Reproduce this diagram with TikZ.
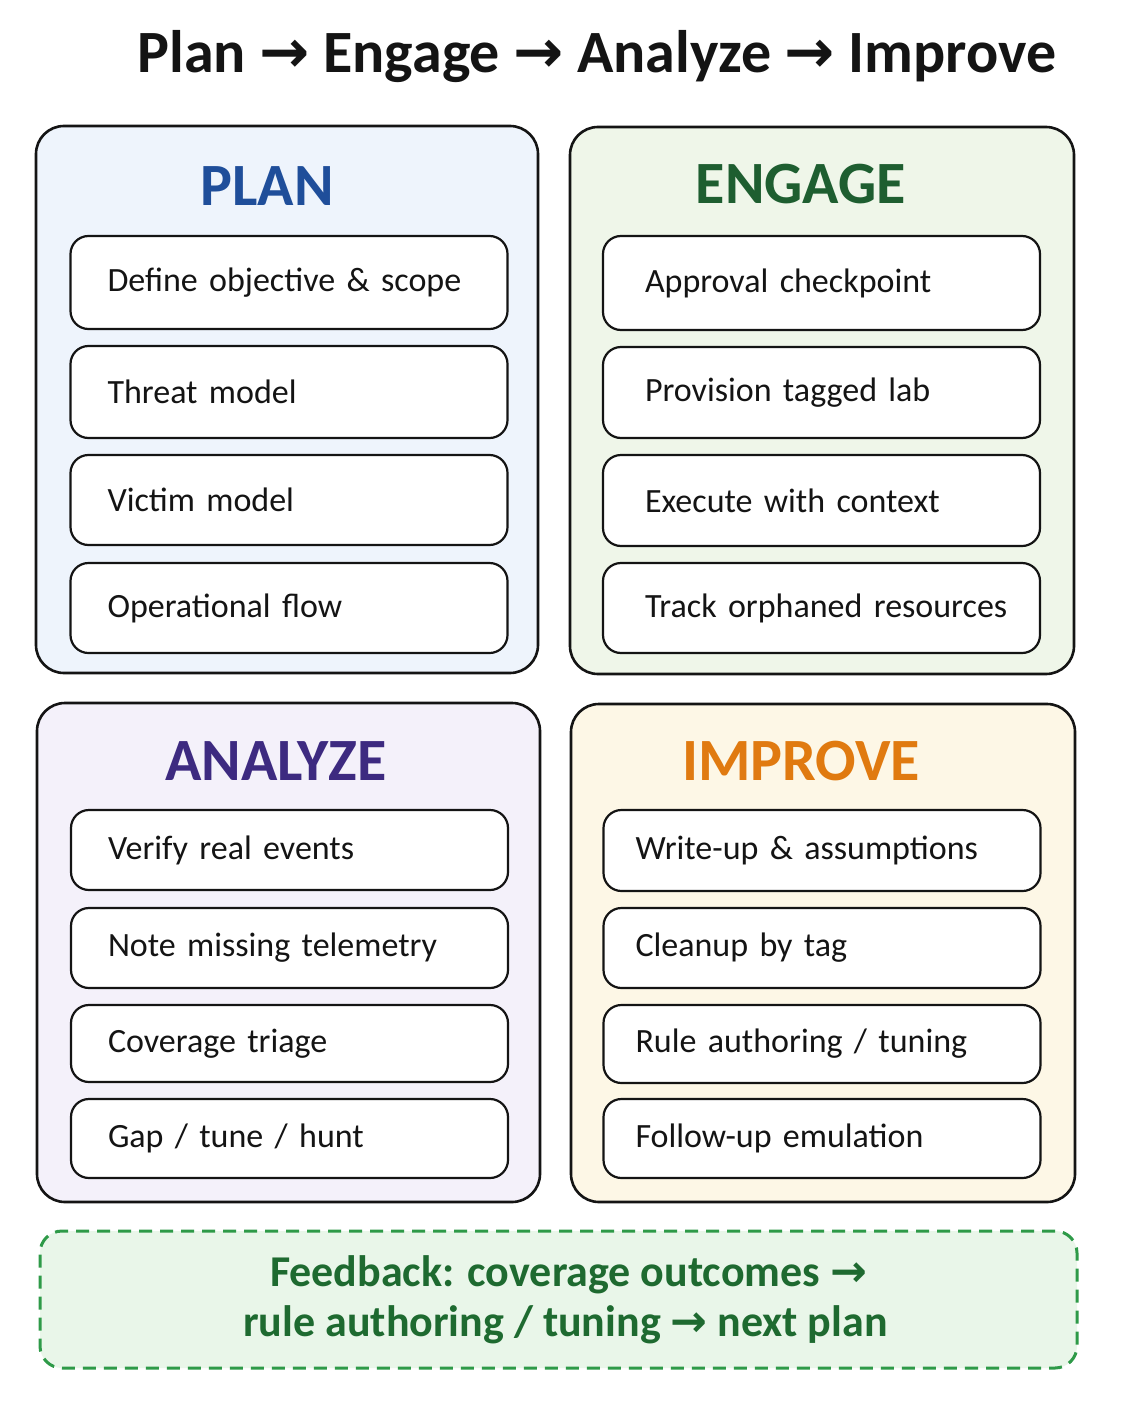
\documentclass[tikz,border=0pt]{standalone}
\usepackage{fontspec}
\setmainfont{Carlito}
\newfontfamily\arrowfont{DejaVu Sans}
\newcommand{\rarr}{{\arrowfont →}}
\definecolor{planfill}{HTML}{EEF4FC}
\definecolor{planc}{HTML}{1F4E9A}
\definecolor{engfill}{HTML}{EFF6E9}
\definecolor{engc}{HTML}{1E5E30}
\definecolor{anafill}{HTML}{F4F1FA}
\definecolor{anac}{HTML}{3D2A80}
\definecolor{impfill}{HTML}{FDF7E6}
\definecolor{impc}{HTML}{E07A10}
\definecolor{fbfill}{HTML}{E9F6E9}
\definecolor{fbline}{HTML}{2E9A48}
\definecolor{fbtext}{HTML}{1E6A30}
\definecolor{ink}{HTML}{141414}
\tikzset{
  panel/.style={draw=ink, line width=2.6pt, rounded corners=28pt, inner sep=0pt},
  header/.style={font=\fontsize{60}{66}\selectfont\bfseries, inner sep=0pt},
  item/.style={draw=ink, line width=2.2pt, rounded corners=18pt, fill=white,
    minimum width=437pt, align=left, inner ysep=0pt,
    font=\fontsize{34}{40}\selectfont, text=ink},
}
\begin{document}
\begin{tikzpicture}[x=1pt,y=-1pt]
\useasboundingbox[fill=white] (0,0) rectangle (1122,1402);

% title
\node[font=\fontsize{60}{66}\selectfont\bfseries, text=ink, inner sep=0pt] (title) at (597,57)
  {Plan \rarr{} Engage \rarr{} Analyze \rarr{} Improve};

% panels
\node[panel, fill=planfill, minimum width=502pt, minimum height=547pt] (plan) at (287,399.5) {};
\node[panel, fill=engfill, minimum width=504pt, minimum height=547pt] (engage) at (822,400.5) {};
\node[panel, fill=anafill, minimum width=503pt, minimum height=499pt] (analyze) at (288.5,952.5) {};
\node[panel, fill=impfill, minimum width=504pt, minimum height=498pt] (improve) at (823,953) {};

% headers
\node[header, text=planc] (planh) at (267,186) {PLAN};
\node[header, text=engc] (engh) at (801,184) {ENGAGE};
\node[header, text=anac] (anah) at (276,761) {ANALYZE};
\node[header, text=impc] (imph) at (801,761) {IMPROVE};

% plan items
\begin{scope}[every node/.append style={inner xsep=37pt, text width=363pt}]
\node[item, minimum height=93pt] (p1) at (289,282.5) {\mbox{Define objective \& scope}};
\node[item, minimum height=92pt] (p2) at (289,392) {\mbox{Threat model}};
\node[item, minimum height=90pt] (p3) at (289,500) {\mbox{Victim model}};
\node[item, minimum height=90pt] (p4) at (289,608) {\mbox{Operational flow}};
\end{scope}

% engage items
\begin{scope}[every node/.append style={inner xsep=42pt, text width=353pt}]
\node[item, minimum height=94pt] (e1) at (821.5,283) {\mbox{Approval checkpoint}};
\node[item, minimum height=91pt] (e2) at (821.5,392.5) {\mbox{Provision tagged lab}};
\node[item, minimum height=91pt] (e3) at (821.5,500.5) {\mbox{Execute with context}};
\node[item, minimum height=90pt] (e4) at (821.5,608) {\mbox{Track orphaned resources}};
\end{scope}

% analyze items
\begin{scope}[every node/.append style={inner xsep=37pt, text width=363pt}]
\node[item, minimum height=80pt] (a1) at (289.5,850) {\mbox{Verify real events}};
\node[item, minimum height=80pt] (a2) at (289.5,948) {\mbox{Note missing telemetry}};
\node[item, minimum height=77pt] (a3) at (289.5,1043.5) {\mbox{Coverage triage}};
\node[item, minimum height=79pt] (a4) at (289.5,1138.5) {\mbox{Gap / tune / hunt}};
\end{scope}

% improve items
\begin{scope}[every node/.append style={inner xsep=32pt, text width=373pt}]
\node[item, minimum height=81pt] (i1) at (822,850.5) {\mbox{Write-up \& assumptions}};
\node[item, minimum height=80pt] (i2) at (822,948) {\mbox{Cleanup by tag}};
\node[item, minimum height=78pt] (i3) at (822,1044) {\mbox{Rule authoring / tuning}};
\node[item, minimum height=79pt] (i4) at (822,1138.5) {\mbox{Follow-up emulation}};
\end{scope}

% feedback
\node[draw=fbline, fill=fbfill, line width=3pt, dash pattern=on 13pt off 8pt,
  rounded corners=22pt, minimum width=1037pt, minimum height=137pt,
  align=center, text=fbtext, font=\fontsize{44}{50}\selectfont\bfseries] (fb) at (558.5,1299.5)
  {\hspace*{20pt}Feedback: coverage outcomes \rarr\\\hspace*{14pt}rule authoring / tuning \rarr{} next plan};
\end{tikzpicture}
\end{document}
